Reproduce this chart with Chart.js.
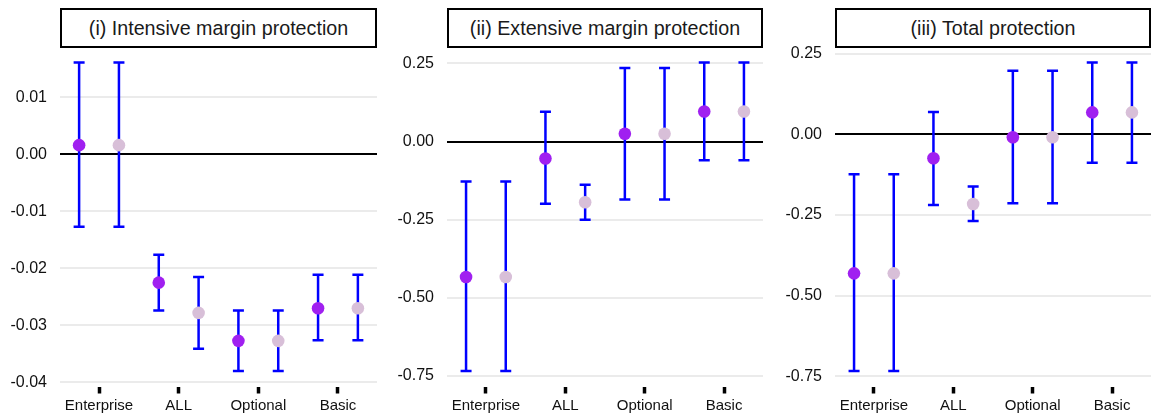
<!DOCTYPE html>
<html>
<head>
<meta charset="utf-8">
<script src="https://cdn.jsdelivr.net/npm/chart.js@4.4.1/dist/chart.umd.min.js"></script>
<style>
  html, body { margin: 0; padding: 0; background: #fff; overflow: hidden; }
  #wrap { position: relative; width: 1151px; height: 420px; }
  canvas { position: absolute; top: 0; }
  .strip {
    position: absolute; top: 8px; height: 40px; box-sizing: border-box;
    border: 2px solid #000; background: #fff;
    font-family: "Liberation Sans", Arial, sans-serif; font-size: 19.7px; color: #1a1a1a;
    display: flex; align-items: center; justify-content: center; white-space: nowrap;
  }
</style>
</head>
<body>
<div id="wrap"></div>
<script>
// Categories on the x axis
const categories = ['Enterprise', 'ALL', 'Optional', 'Basic'];

// (i) Intensive margin protection — estimate, lower and upper bound for the two specifications
const intensiveEstA  = [0.0016, -0.0225, -0.0327, -0.0270];
const intensiveLowA  = [-0.0127, -0.0274, -0.0380, -0.0326];
const intensiveHighA = [0.0161, -0.0176, -0.0274, -0.0211];
const intensiveEstB  = [0.0016, -0.0278, -0.0327, -0.0270];
const intensiveLowB  = [-0.0127, -0.0341, -0.0380, -0.0326];
const intensiveHighB = [0.0161, -0.0215, -0.0274, -0.0211];
const intensiveTicks = [0.01, 0.00, -0.01, -0.02, -0.03, -0.04];

// (ii) Extensive margin protection
const extensiveEstA  = [-0.433, -0.054, 0.025, 0.096];
const extensiveLowA  = [-0.734, -0.199, -0.185, -0.060];
const extensiveHighA = [-0.128, 0.095, 0.235, 0.253];
const extensiveEstB  = [-0.433, -0.194, 0.025, 0.096];
const extensiveLowB  = [-0.734, -0.250, -0.185, -0.060];
const extensiveHighB = [-0.128, -0.138, 0.235, 0.253];
const extensiveTicks = [0.25, 0.00, -0.25, -0.50, -0.75];

// (iii) Total protection
const totalEstA  = [-0.431, -0.074, -0.009, 0.068];
const totalLowA  = [-0.734, -0.219, -0.214, -0.088];
const totalHighA = [-0.124, 0.069, 0.197, 0.223];
const totalEstB  = [-0.431, -0.216, -0.009, 0.068];
const totalLowB  = [-0.734, -0.269, -0.214, -0.088];
const totalHighB = [-0.124, -0.162, 0.197, 0.223];
const totalTicks = [0.25, 0.00, -0.25, -0.50, -0.75];

const FONT = '"Liberation Sans", Arial, sans-serif';
const COLOR_A = '#A020F0';
const COLOR_B = '#D8BFD8';
const BAR_COLOR = '#0000FF';
const DODGE = 0.25;

Chart.defaults.font.family = FONT;

// Vertical error bars with caps, drawn between the grid and the points
const errorBars = {
  id: 'errorBars',
  beforeDatasetsDraw(chart) {
    const bars = chart.options.plugins.errorBars.series;
    const xs = chart.scales.x, ys = chart.scales.y;
    const ctx = chart.ctx;
    ctx.save();
    ctx.strokeStyle = BAR_COLOR;
    ctx.lineWidth = 2.5;
    ctx.lineCap = 'butt';
    bars.forEach(s => {
      s.low.forEach((lo, i) => {
        const x = xs.getPixelForValue(i + s.dx);
        const y1 = ys.getPixelForValue(lo);
        const y2 = ys.getPixelForValue(s.high[i]);
        ctx.beginPath();
        ctx.moveTo(x, y1); ctx.lineTo(x, y2);
        ctx.moveTo(x - 5.5, y1); ctx.lineTo(x + 5.5, y1);
        ctx.moveTo(x - 5.5, y2); ctx.lineTo(x + 5.5, y2);
        ctx.stroke();
      });
    });
    ctx.restore();
  }
};

function makePanel(p) {
  const wrap = document.getElementById('wrap');
  const canvas = document.createElement('canvas');
  canvas.width = p.width; canvas.height = 420;
  canvas.style.left = p.left + 'px';
  wrap.appendChild(canvas);

  const strip = document.createElement('div');
  strip.className = 'strip';
  strip.style.left = (p.left + p.axisWidth) + 'px';
  strip.style.width = (p.width - p.axisWidth) + 'px';
  strip.textContent = p.title;
  wrap.appendChild(strip);

  // y limits: data range widened by 5% on each side
  const all = p.lowA.concat(p.highA, p.lowB, p.highB);
  const lo = Math.min(...all), hi = Math.max(...all);
  const pad = (hi - lo) * 0.05;

  const pts = (est, dx) => est.map((v, i) => ({ x: i + dx, y: v }));

  new Chart(canvas, {
    type: 'scatter',
    data: {
      datasets: [
        { data: pts(p.estA, -DODGE), backgroundColor: COLOR_A, borderWidth: 0, pointRadius: 6.3, pointHoverRadius: 6.3 },
        { data: pts(p.estB, DODGE), backgroundColor: COLOR_B, borderWidth: 0, pointRadius: 6.3, pointHoverRadius: 6.3 }
      ]
    },
    options: {
      responsive: false,
      animation: false,
      events: [],
      layout: { autoPadding: false, padding: { top: 47, left: 0, right: 0, bottom: 0 } },
      plugins: {
        legend: { display: false },
        tooltip: { enabled: false },
        errorBars: {
          series: [
            { dx: -DODGE, low: p.lowA, high: p.highA },
            { dx: DODGE, low: p.lowB, high: p.highB }
          ]
        }
      },
      scales: {
        x: {
          type: 'linear',
          min: -0.49, max: 3.49,
          afterBuildTicks: s => { s.ticks = categories.map((c, i) => ({ value: i })); },
          afterFit: s => { s.height = 33.5; },
          ticks: {
            callback: v => categories[v],
            font: { size: 15 }, color: '#111', padding: 3,
            maxRotation: 0, autoSkip: false
          },
          grid: { drawOnChartArea: false, drawTicks: true, tickLength: 7, tickWidth: 3.5, tickColor: '#000' },
          border: { display: false }
        },
        y: {
          min: lo - pad, max: hi + pad,
          afterBuildTicks: s => { s.ticks = p.ticks.map(v => ({ value: v })); },
          afterFit: s => { s.width = p.axisWidth; },
          ticks: {
            callback: v => Number(v).toFixed(2),
            font: { size: 16 }, color: '#111', padding: 13
          },
          grid: {
            drawTicks: false,
            color: c => (c.tick && Math.abs(c.tick.value) < 1e-12) ? '#000' : '#EBEBEB',
            lineWidth: 2
          },
          border: { display: false }
        }
      }
    },
    plugins: [errorBars]
  });
}

makePanel({
  title: '(i) Intensive margin protection', left: 0, width: 377, axisWidth: 60,
  estA: intensiveEstA, lowA: intensiveLowA, highA: intensiveHighA,
  estB: intensiveEstB, lowB: intensiveLowB, highB: intensiveHighB,
  ticks: intensiveTicks
});
makePanel({
  title: '(ii) Extensive margin protection', left: 380, width: 383, axisWidth: 67,
  estA: extensiveEstA, lowA: extensiveLowA, highA: extensiveHighA,
  estB: extensiveEstB, lowB: extensiveLowB, highB: extensiveHighB,
  ticks: extensiveTicks
});
makePanel({
  title: '(iii) Total protection', left: 765, width: 386, axisWidth: 70,
  estA: totalEstA, lowA: totalLowA, highA: totalHighA,
  estB: totalEstB, lowB: totalLowB, highB: totalHighB,
  ticks: totalTicks
});
</script>
</body>
</html>
